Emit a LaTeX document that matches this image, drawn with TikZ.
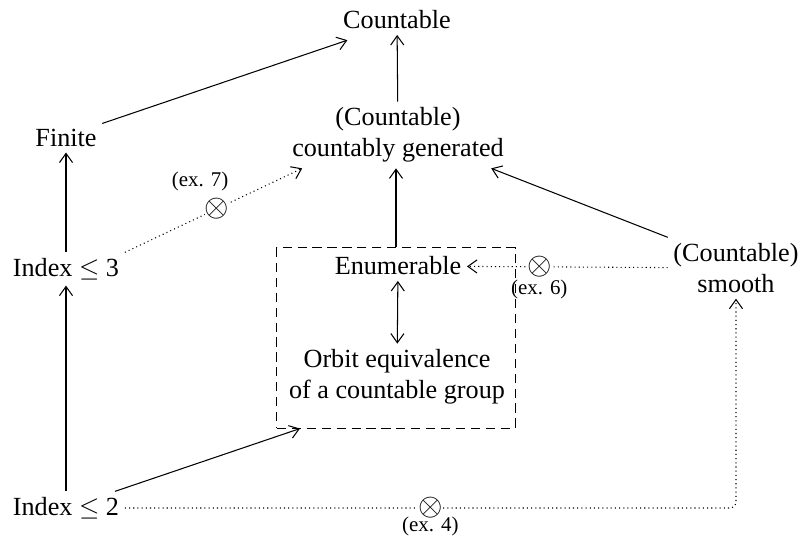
\documentclass[tikz,border=0pt]{standalone}
\usepackage{fontspec}
\setmainfont{Liberation Serif}
\usetikzlibrary{arrows.meta,positioning}

\tikzset{
  >={Straight Barb[length=3.5pt,width=5pt]},
  cls/.style={align=center,inner sep=2pt},
  imp/.style={->},
  nonimp/.style={->,dash pattern=on .4pt off 1.2pt},
  cross/.style={inner sep=0pt,fill=white,font=\fontsize{13pt}{15pt}\selectfont},
  exlab/.style={font=\footnotesize,inner sep=1pt},
}

\begin{document}
\begin{tikzpicture}[x=.382pt,y=-.382pt]
\useasboundingbox (0,0) rectangle (800,543);
% classes
\node[cls] (count) at (397,20) {Countable};
\node[cls] (cgen) at (398,135) {(Countable)\\countably generated};
\node[cls] (finite) at (66,138) {Finite};
\node[cls] (idx3) at (66,269) {Index $\leq$ 3};
\node[cls] (enum) at (398,266) {Enumerable};
\node[cls] (orbit) at (397,377) {Orbit equivalence\\of a countable group};
\node[cls] (smooth) at (736,268) {(Countable)\\smooth};
\node[cls] (idx2) at (66,508) {Index $\leq$ 2};
\node[draw,dash pattern=on 3.5pt off 2.2pt,minimum width=91pt,minimum height=68.8pt] (box) at (396,338) {};
% implications
\draw[imp] (finite.north east) -- ([xshift=3.8pt,yshift=-2pt]count.south west);
\draw[imp] (cgen) -- (count);
\draw[imp] (idx3) -- (finite);
\draw[imp] (idx2) -- (idx3);
\draw[imp] (box.north) -- (box.north |- cgen.south);
\draw[<->] (enum) -- (orbit);
\draw[imp] (idx2) -- ([xshift=9pt]box.south west);
\draw[imp] (smooth.north west) -- ([xshift=-7pt]cgen.south east);
% non-implications
\draw[nonimp] (idx3.north east) -- node[cross,pos=.52] (x7) {$\otimes$} ([xshift=6pt]cgen.south west);
\node[exlab,above=1.5pt of x7,xshift=-6.5pt] {(ex. 7)};
\draw[nonimp] (smooth) -- node[cross,pos=.64] (x6) {$\otimes$} (enum);
\node[exlab,below=-.5pt of x6] {(ex. 6)};
\draw[nonimp,rounded corners=2pt] (idx2) -| node[cross,pos=.25] (x4) {$\otimes$} (smooth);
\node[exlab,below=-2pt of x4] {(ex. 4)};
\end{tikzpicture}
\end{document}
